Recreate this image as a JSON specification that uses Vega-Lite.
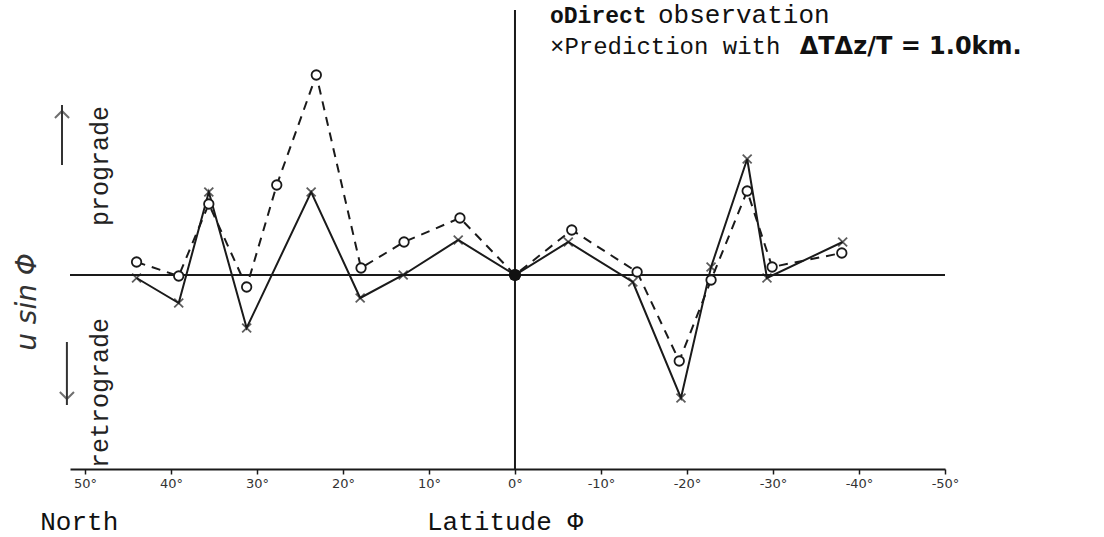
{
  "$schema": "https://vega.github.io/schema/vega-lite/v6.json",
  "autosize": {"type": "none"},
  "width": 875,
  "height": 459,
  "padding": {"left": 70, "top": 10, "right": 159, "bottom": 68},
  "background": "white",
  "config": {"view": {"stroke": null}},
  "datasets": {
    "obs": [
      {"lat": 44.0, "val": 1.3}, {"lat": 39.1, "val": -0.1}, {"lat": 35.6, "val": 7.1},
      {"lat": 31.2, "val": -1.2}, {"lat": 27.7, "val": 9.0}, {"lat": 23.1, "val": 20.0},
      {"lat": 17.9, "val": 0.7}, {"lat": 12.9, "val": 3.3}, {"lat": 6.4, "val": 5.7},
      {"lat": 0.0, "val": 0.0}, {"lat": -6.6, "val": 4.5}, {"lat": -14.2, "val": 0.3},
      {"lat": -19.1, "val": -8.6}, {"lat": -22.8, "val": -0.5}, {"lat": -27.0, "val": 8.4},
      {"lat": -29.9, "val": 0.8}, {"lat": -38.0, "val": 2.2}
    ],
    "pred": [
      {"lat": 44.0, "val": -0.3}, {"lat": 39.1, "val": -2.8}, {"lat": 35.6, "val": 8.3},
      {"lat": 31.2, "val": -5.3}, {"lat": 23.7, "val": 8.3}, {"lat": 18.0, "val": -2.3},
      {"lat": 13.0, "val": 0.0}, {"lat": 6.6, "val": 3.5}, {"lat": 0.0, "val": 0.0},
      {"lat": -6.2, "val": 3.3}, {"lat": -13.7, "val": -0.7}, {"lat": -19.3, "val": -12.3},
      {"lat": -22.8, "val": 0.8}, {"lat": -27.0, "val": 11.6}, {"lat": -29.3, "val": -0.3},
      {"lat": -38.1, "val": 3.3}
    ]
  },
  "layer": [
    {
      "data": {"values": [{"lat": 0}]},
      "mark": {"type": "rule", "color": "#1a1a1a", "strokeWidth": 2},
      "encoding": {
        "x": {"field": "lat", "type": "quantitative", "title": null,
          "scale": {"domain": [-50, 51.74], "reverse": true, "nice": false, "zero": false},
          "axis": {"title": null, "values": [50, 40, 30, 20, 10, 0, -10, -20, -30, -40, -50],
            "labelExpr": "datum.value + '°'", "domainColor": "#1a1a1a", "domainWidth": 2,
            "tickColor": "#1a1a1a", "tickWidth": 1.5, "tickSize": 5, "labelFont": "DejaVu Sans",
            "labelFontSize": 13, "labelColor": "#333", "labelPadding": 3, "grid": false,
            "labelFlush": false, "labelOverlap": false, "labelBound": false}}
      }
    },
    {
      "data": {"values": [{"val": 0}]},
      "mark": {"type": "rule", "color": "#1a1a1a", "strokeWidth": 2},
      "encoding": {
        "y": {"field": "val", "type": "quantitative", "title": null,
          "scale": {"domain": [-19.4, 26.5], "nice": false, "zero": false}, "axis": null}
      }
    },
    {
      "data": {"name": "obs"},
      "mark": {"type": "line", "color": "#1a1a1a", "strokeWidth": 2, "strokeDash": [9, 7]},
      "encoding": {
        "x": {"field": "lat", "type": "quantitative", "title": null},
        "y": {"field": "val", "type": "quantitative", "title": null, "axis": null}
      }
    },
    {
      "data": {"name": "pred"},
      "mark": {"type": "line", "color": "#1a1a1a", "strokeWidth": 2},
      "encoding": {
        "x": {"field": "lat", "type": "quantitative", "title": null},
        "y": {"field": "val", "type": "quantitative", "title": null, "axis": null}
      }
    },
    {
      "data": {"name": "obs"},
      "mark": {"type": "point", "shape": "circle", "filled": false, "color": "#1a1a1a", "strokeWidth": 1.8, "size": 90, "fill": "white", "fillOpacity": 1},
      "encoding": {
        "x": {"field": "lat", "type": "quantitative", "title": null},
        "y": {"field": "val", "type": "quantitative", "title": null, "axis": null}
      }
    },
    {
      "data": {"name": "pred"},
      "mark": {"type": "point", "shape": "M-1,-1L1,1M1,-1L-1,1", "filled": false, "color": "#1a1a1a", "strokeWidth": 1.8, "size": 80},
      "encoding": {
        "x": {"field": "lat", "type": "quantitative", "title": null},
        "y": {"field": "val", "type": "quantitative", "title": null, "axis": null}
      }
    },
    {
      "data": {"name": "obs"},
      "transform": [{"filter": "datum.lat == 0"}],
      "mark": {"type": "point", "shape": "circle", "filled": true, "color": "#111", "size": 150, "opacity": 1},
      "encoding": {
        "x": {"field": "lat", "type": "quantitative", "title": null},
        "y": {"field": "val", "type": "quantitative", "title": null, "axis": null}
      }
    },
    {
      "data": {"values": [{"lat": 52.67, "val": 17.0, "val2": 11.0}, {"lat": 52.1, "val": -6.7, "val2": -13.0}]},
      "mark": {"type": "rule", "color": "#333", "strokeWidth": 2},
      "encoding": {
        "x": {"field": "lat", "type": "quantitative", "title": null},
        "y": {"field": "val", "type": "quantitative", "title": null, "axis": null},
        "y2": {"field": "val2"}
      }
    },
    {
      "data": {"values": [{"lat": 52.67, "val": 16.4}]},
      "mark": {"type": "point", "shape": "M-1,1L0,0L1,1", "filled": false, "color": "#333", "strokeWidth": 2, "size": 200},
      "encoding": {
        "x": {"field": "lat", "type": "quantitative", "title": null},
        "y": {"field": "val", "type": "quantitative", "title": null, "axis": null}
      }
    },
    {
      "data": {"values": [{"lat": 52.1, "val": -12.4}]},
      "mark": {"type": "point", "shape": "M-1,-1L0,0L1,-1", "filled": false, "color": "#333", "strokeWidth": 2, "size": 200},
      "encoding": {
        "x": {"field": "lat", "type": "quantitative", "title": null},
        "y": {"field": "val", "type": "quantitative", "title": null, "axis": null}
      }
    },
    {
      "data": {"values": [{"lat": 48.3, "val": 10.9, "t": "prograde"}, {"lat": 48.3, "val": -11.8, "t": "retrograde"}]},
      "mark": {"type": "text", "font": "Liberation Mono", "fontSize": 25, "angle": 270, "align": "center", "baseline": "middle", "color": "#222"},
      "encoding": {
        "x": {"field": "lat", "type": "quantitative", "title": null},
        "y": {"field": "val", "type": "quantitative", "title": null, "axis": null},
        "text": {"field": "t"}
      }
    },
    {
      "data": {"values": [{"lat": 56.6, "val": -2.7, "t": "u sin Φ"}]},
      "mark": {"type": "text", "font": "DejaVu Sans", "fontSize": 28, "fontStyle": "italic", "angle": 270, "align": "center", "baseline": "middle", "color": "#333"},
      "encoding": {
        "x": {"field": "lat", "type": "quantitative", "title": null},
        "y": {"field": "val", "type": "quantitative", "title": null, "axis": null},
        "text": {"field": "t"}
      }
    },
    {
      "data": {"values": [{"lat": 55.2, "val": -25.5, "t": "North"}, {"lat": 10.23, "val": -25.5, "t": "Latitude Φ"}]},
      "mark": {"type": "text", "font": "Liberation Mono", "fontSize": 26, "align": "left", "baseline": "alphabetic", "color": "#111"},
      "encoding": {
        "x": {"field": "lat", "type": "quantitative", "title": null},
        "y": {"field": "val", "type": "quantitative", "title": null, "axis": null},
        "text": {"field": "t"}
      }
    },
    {
      "data": {"values": [{"lat": -4.07, "val": 25.2, "t": "oDirect"}]},
      "mark": {"type": "text", "font": "Liberation Mono", "fontSize": 23, "fontWeight": "bold", "align": "left", "baseline": "alphabetic", "color": "#111"},
      "encoding": {
        "x": {"field": "lat", "type": "quantitative", "title": null},
        "y": {"field": "val", "type": "quantitative", "title": null, "axis": null},
        "text": {"field": "t"}
      }
    },
    {
      "data": {"values": [{"lat": -16.63, "val": 25.2, "t": "observation"}]},
      "mark": {"type": "text", "font": "Liberation Mono", "fontSize": 26, "align": "left", "baseline": "alphabetic", "color": "#111"},
      "encoding": {
        "x": {"field": "lat", "type": "quantitative", "title": null},
        "y": {"field": "val", "type": "quantitative", "title": null, "axis": null},
        "text": {"field": "t"}
      }
    },
    {
      "data": {"values": [{"lat": -4.07, "val": 22.1, "t": "×Prediction with"}]},
      "mark": {"type": "text", "font": "Liberation Mono", "fontSize": 24, "align": "left", "baseline": "alphabetic", "color": "#111"},
      "encoding": {
        "x": {"field": "lat", "type": "quantitative", "title": null},
        "y": {"field": "val", "type": "quantitative", "title": null, "axis": null},
        "text": {"field": "t"}
      }
    },
    {
      "data": {"values": [{"lat": -33.1, "val": 22.1, "t": "ΔTΔz/T  =  1.0km."}]},
      "mark": {"type": "text", "font": "DejaVu Sans", "fontSize": 24, "fontWeight": "bold", "align": "left", "baseline": "alphabetic", "color": "#111"},
      "encoding": {
        "x": {"field": "lat", "type": "quantitative", "title": null},
        "y": {"field": "val", "type": "quantitative", "title": null, "axis": null},
        "text": {"field": "t"}
      }
    }
  ]
}
